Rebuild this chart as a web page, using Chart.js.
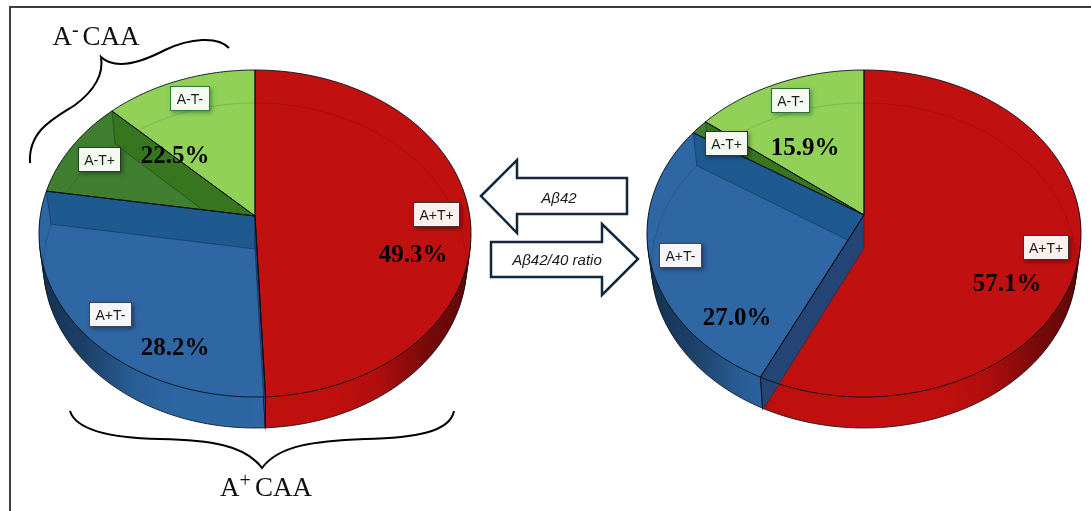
<!DOCTYPE html>
<html>
<head>
<meta charset="utf-8">
<script src="https://cdn.jsdelivr.net/npm/chart.js@4"></script>
<style>
  html, body { margin: 0; padding: 0; background: #fff; width: 1091px; height: 511px; overflow: hidden; }
  #page { position: absolute; left: 0; top: 0; width: 1091px; height: 511px; overflow: hidden; filter: blur(0.45px); }
  #frame { position: absolute; left: 9px; top: 6px; width: 1090px; height: 520px; border: 2px solid #3d3d3d; box-sizing: border-box; }
  canvas { position: absolute; top: 0; }
  svg { position: absolute; left: 0; top: 0; }
  .tag { position: absolute; box-sizing: border-box; background: #f8fbf6; border: 1.5px solid #333; font: 14px "Liberation Sans", sans-serif; color: #1c1c1c; display: flex; align-items: center; justify-content: center; box-shadow: 2px 2px 4px rgba(0,0,0,.35); }
  .pct { position: absolute; transform: translate(-50%, -50%); font: bold 25px "Liberation Serif", serif; color: #050505; white-space: nowrap; }
  .head { position: absolute; transform: translate(-50%, -50%); font: 27px "Liberation Serif", serif; color: #111; white-space: nowrap; }
  .head sup { font-size: 20px; line-height: 0; vertical-align: 9px; margin-right: 4px; }
  .arrowText { position: absolute; transform: translate(-50%, -50%); font: italic 15px "Liberation Sans", sans-serif; color: #1a1a1a; white-space: nowrap; }
</style>
</head>
<body>
<div id="page">
<div id="frame"></div>
<canvas id="pieLeft" width="510" height="511" style="left:0"></canvas>
<canvas id="pieRight" width="456" height="511" style="left:636px"></canvas>
<svg width="1091" height="511" fill="none">
  <!-- braces -->
  <path d="M229 48 C218 36 190 38 165 50 C140 63 115 70 101 57 C104 75 95 90 75 105 C55 118 28 130 30 163" stroke="#000" stroke-width="2"/>
  <path d="M70 411 C76 430 110 438 160 439 C210 440 245 445 262 468 C279 445 315 441 365 439 C415 438 450 432 454 411" stroke="#000" stroke-width="2"/>
  <!-- arrows -->
  <path d="M481 196 L517 160 L517 178 L627 178 L627 214 L517 214 L517 233 Z" fill="#fff" stroke="#10283c" stroke-width="2.5"/>
  <path d="M491 242 L602 242 L602 224 L638 259 L602 295 L602 277 L491 277 Z" fill="#fff" stroke="#10283c" stroke-width="2.5"/>
</svg>
</div>

<script>
// values
const categories = ["A+T+", "A+T-", "A-T+", "A-T-"];
const leftValues = [49.3, 28.2, 9.8, 12.7];
const rightValues = [57.1, 27.0, 1.5, 14.4];
const sliceColors = ["#c01110", "#2e67a4", "#3f7f2f", "#92d158"];

// percent labels printed on the pies
const leftPercents = ["49.3%", "28.2%", "22.5%"];
const rightPercents = ["57.1%", "27.0%", "15.9%"];
const arrowLabels = ["Aβ42", "Aβ42/40 ratio"];

// flat radius of the disc that projects to the wanted outline
function flatRadius(layout) {
  const mid = (layout.botRy - layout.topRy) / 2;
  const semi = (layout.botRy + layout.topRy) / 2;
  return layout.halfW * Math.sqrt(1 - (mid / semi) * (mid / semi));
}

// draw the flat Chart.js arcs as a disc seen in perspective
function tiltPlugin(layout) {
  const c = (layout.topRy - layout.botRy) / (layout.topRy + layout.botRy);
  const a = layout.topRy * (1 - c);
  const R = flatRadius(layout);
  // lower layers of the disc are a little narrower
  const narrow = (dy) => 1 - 0.022 * dy / 33;

  function rim(arc, angle, dy) {
    const u = Math.cos(angle);
    const v = Math.sin(angle);
    const w = 1 / (1 + c * v);
    return [arc.x + R * u * w * narrow(dy), layout.cy + dy + a * v * w];
  }

  function slicePath(ctx, arc, dy) {
    ctx.beginPath();
    ctx.moveTo(arc.x, layout.cy + dy);
    const steps = Math.max(2, Math.ceil((arc.endAngle - arc.startAngle) * 60));
    for (let i = 0; i <= steps; i++) {
      const t = arc.startAngle + (arc.endAngle - arc.startAngle) * i / steps;
      const p = rim(arc, t, dy);
      ctx.lineTo(p[0], p[1]);
    }
    ctx.closePath();
  }

  // one row at a time, each row is a plain scale of the flat arc
  function drawArc(ctx, arc, width) {
    for (let row = layout.cy - layout.topRy - 2; row < layout.cy + layout.botRy + 2; row++) {
      const Y = row + 0.5 - layout.cy;
      const v = Y / (a - c * Y);
      const w = 1 / (1 + c * v);
      ctx.save();
      ctx.beginPath();
      ctx.rect(0, row, width, 1);
      ctx.clip();
      ctx.translate(arc.x, row + 0.5);
      ctx.scale(w, (a * w * w) / R);
      ctx.translate(-arc.x, -arc.y - v * R);
      arc.draw(ctx);
      ctx.restore();
    }
  }

  return {
    id: "tilt",
    beforeDatasetsDraw(chart) {
      const ctx = chart.ctx;
      const arcs = chart.getDatasetMeta(0).data;
      const cx = arcs[0].x;

      const off = document.createElement("canvas");
      off.width = chart.width;
      off.height = chart.height;
      const offCtx = off.getContext("2d");
      arcs.forEach((arc) => drawArc(offCtx, arc, chart.width));

      // side of the disc
      for (let d = layout.depth; d >= 1; d--) {
        const s = narrow(d);
        ctx.drawImage(off, cx - cx * s, d, chart.width * s, chart.height);
      }
      ctx.save();
      ctx.globalCompositeOperation = "source-atop";
      const shade = ctx.createLinearGradient(cx - layout.halfW, 0, cx + layout.halfW, 0);
      shade.addColorStop(0, "rgba(0,0,0,.5)");
      shade.addColorStop(0.1, "rgba(0,0,0,.38)");
      shade.addColorStop(0.22, "rgba(0,0,0,.08)");
      shade.addColorStop(0.32, "rgba(0,0,0,0)");
      shade.addColorStop(0.68, "rgba(0,0,0,0)");
      shade.addColorStop(0.78, "rgba(0,0,0,.08)");
      shade.addColorStop(0.9, "rgba(0,0,0,.38)");
      shade.addColorStop(1, "rgba(0,0,0,.5)");
      ctx.fillStyle = shade;
      ctx.fillRect(0, 0, chart.width, chart.height);
      ctx.restore();

      ctx.strokeStyle = "rgba(15,20,30,.85)";
      ctx.lineWidth = 1;
      arcs.forEach((arc) => {
        slicePath(ctx, arc, layout.depth);
        ctx.stroke();
      });

      // top face
      ctx.drawImage(off, 0, 0);

      // faint inner rim seen through the top
      arcs.forEach((arc) => {
        ctx.save();
        slicePath(ctx, arc, 0);
        ctx.clip();
        ctx.beginPath();
        for (let t = -Math.PI - 0.4; t <= 0.4; t += 0.02) {
          const p = rim(arc, t, layout.drop);
          ctx.lineTo(p[0], p[1]);
        }
        ctx.strokeStyle = "rgba(0,0,0,.13)";
        ctx.stroke();
        ctx.restore();
      });

      // cut faces seen through the top
      function wall(angle, color) {
        const p = rim(arcs[0], angle, 0);
        const q = rim(arcs[0], angle, layout.drop);
        ctx.beginPath();
        ctx.moveTo(cx, layout.cy);
        ctx.lineTo(p[0], p[1]);
        ctx.lineTo(q[0], q[1]);
        ctx.lineTo(cx, layout.cy + layout.drop);
        ctx.closePath();
        ctx.fillStyle = color;
        ctx.fill();
        ctx.strokeStyle = "rgba(10,20,40,.35)";
        ctx.stroke();
      }
      [[1, 1, "#1e5a90"], [2, 2, "#37761f"]].forEach((w) => {
        ctx.save();
        slicePath(ctx, arcs[w[1]], 0);
        ctx.clip();
        wall(arcs[w[0]].endAngle, w[2]);
        ctx.restore();
      });
      wall(arcs[0].endAngle, "#254577");

      ctx.strokeStyle = "rgba(10,15,25,.9)";
      arcs.forEach((arc) => {
        slicePath(ctx, arc, 0);
        ctx.stroke();
        if (Math.sin(arc.endAngle) > 0) {
          const low = rim(arc, arc.endAngle, 0);
          const under = rim(arc, arc.endAngle, layout.depth);
          ctx.beginPath();
          ctx.moveTo(low[0], low[1]);
          ctx.lineTo(under[0], under[1]);
          ctx.stroke();
        }
      });
      return false;
    },
  };
}

function makePie(id, values, layout) {
  return new Chart(document.getElementById(id), {
    type: "pie",
    data: {
      labels: categories,
      datasets: [
        {
          data: values,
          backgroundColor: sliceColors,
          borderWidth: 0,
          radius: flatRadius(layout),
        },
      ],
    },
    options: {
      responsive: false,
      animation: false,
      layout: { padding: 0 },
      plugins: { legend: { display: false }, tooltip: { enabled: false } },
    },
    plugins: [tiltPlugin(layout)],
  });
}

makePie("pieLeft", leftValues, { halfW: 216, cy: 216, topRy: 146, botRy: 181, depth: 31, drop: 33 });
makePie("pieRight", rightValues, { halfW: 217, cy: 215, topRy: 145, botRy: 182, depth: 31, drop: 33 });

// text on top of the charts
const page = document.getElementById("page");

function addText(cls, html, x, y) {
  const el = document.createElement("div");
  el.className = cls;
  el.innerHTML = html;
  el.style.left = x + "px";
  el.style.top = y + "px";
  page.appendChild(el);
  return el;
}

function addTag(text, x0, y0, x1, y1, border, fill, glow) {
  const el = addText("tag", text, x0, y0);
  el.style.width = x1 - x0 + "px";
  el.style.height = y1 - y0 + "px";
  if (border) el.style.borderColor = border;
  if (fill) el.style.background = fill;
  if (glow) el.style.boxShadow = "2px 2px 4px " + glow;
}

addTag(categories[3], 170, 86, 210, 111, "#2f7d3a", "#f6fbf2", "rgba(30,110,50,.55)");
addTag(categories[2], 78, 147, 121, 172, "#2a3a2a", "#f3f8f0");
addTag(categories[0], 413, 202, 460, 227, "#4a3030", "#fbf0ee", "rgba(70,0,0,.55)");
addTag(categories[1], 89, 302, 132, 327, "#40454f", "#f6f6f8", "rgba(20,30,60,.55)");
addTag(categories[3], 771, 88, 810, 113, "#2f6d3a", "#f6fbf2", "rgba(30,110,50,.55)");
addTag(categories[2], 705, 131, 748, 156, "#2a3a2a", "#f3f8f0");
addTag(categories[1], 659, 243, 702, 268, "#40454f", "#f6f6f8", "rgba(20,30,60,.55)");
addTag(categories[0], 1023, 235, 1069, 260, "#4a3030", "#fbf0ee", "rgba(70,0,0,.55)");

addText("pct", leftPercents[0], 413, 254);
addText("pct", leftPercents[1], 175, 347);
addText("pct", leftPercents[2], 175, 155);
addText("pct", rightPercents[0], 1007, 283);
addText("pct", rightPercents[1], 737, 317);
addText("pct", rightPercents[2], 805, 147);

addText("head", "A<sup>-</sup>CAA", 96, 36);
addText("head", "A<sup>+</sup>CAA", 266, 487);
addText("arrowText", arrowLabels[0], 559, 197);
addText("arrowText", arrowLabels[1], 557, 259);
</script>
</body>
</html>
